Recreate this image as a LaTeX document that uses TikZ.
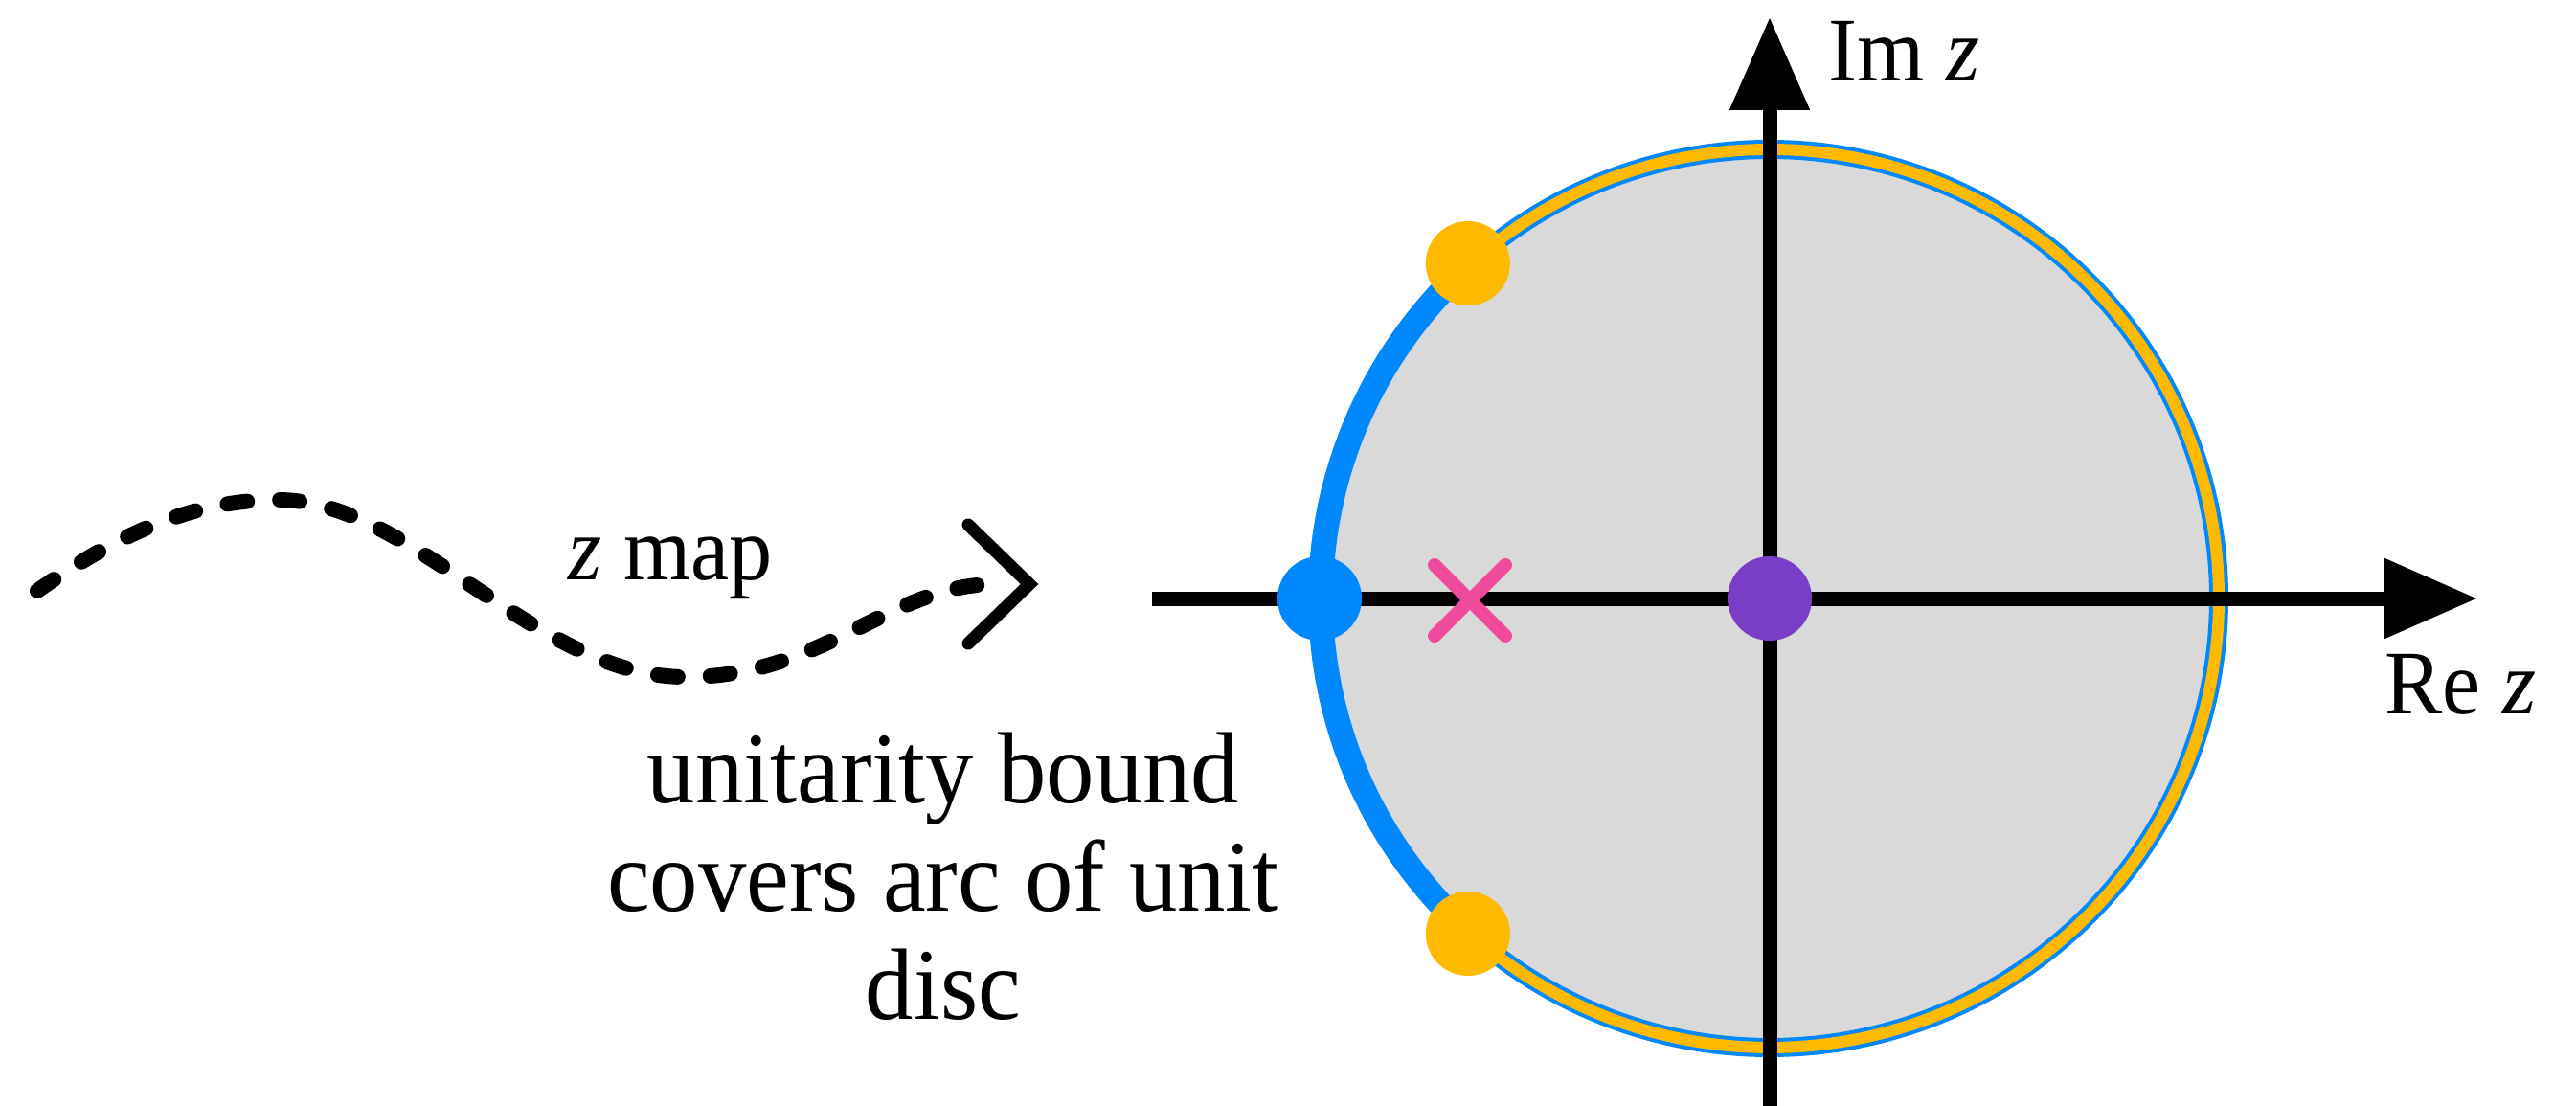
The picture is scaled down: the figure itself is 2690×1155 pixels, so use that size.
\documentclass[tikz,border=0pt]{standalone}
\usepackage{fontspec}
\setmainfont{Liberation Serif}[FakeStretch=0.95]
\usetikzlibrary{arrows.meta,calc}
\definecolor{discgray}{HTML}{D9D9D9}
\definecolor{zblue}{HTML}{0088FF}
\definecolor{zyellow}{HTML}{FFBA00}
\definecolor{zpurple}{HTML}{7A3DC8}
\definecolor{zpink}{HTML}{EE4B9C}
\begin{document}
\begin{tikzpicture}[x=1pt,y=-1pt,
  axisline/.style={line width=15pt,-{Triangle[length=97pt,width=80pt]}},
  dotnode/.style={circle,inner sep=0pt,minimum size=88pt},
  labeltext/.style={inner sep=0pt,font=\fontsize{95}{105}\selectfont},
  maintext/.style={inner sep=0pt,align=center,font=\fontsize{106}{113}\selectfont},
  wavedash/.style={line width=16pt,line cap=round,dash pattern=on 21pt off 34pt}]
\useasboundingbox (0,0) rectangle (2690,1155);
\coordinate (O) at (1848,625);
% disc
\fill[discgray] (O) circle[radius=469];
\draw[zblue,line width=20pt] ([shift={(-132:469)}]O) arc[start angle=-132,end angle=132,radius=469];
\draw[zyellow,line width=12pt] ([shift={(-132:469)}]O) arc[start angle=-132,end angle=132,radius=469];
\draw[zblue,line width=26pt] ([shift={(132:469)}]O) arc[start angle=132,end angle=228,radius=469];
% axes
\coordinate (xl) at (1203,625);
\coordinate (xr) at (2587,625);
\coordinate (yb) at (1848,1160);
\coordinate (yt) at (1848,18);
\draw[axisline] (xl) -- (xr);
\draw[axisline] (yb) -- (yt);
% points
\node[dotnode,fill=zyellow] (ytop) at ([shift={(228:471)}]O) {};
\node[dotnode,fill=zyellow] (ybot) at ([shift={(132:471)}]O) {};
\node[dotnode,fill=zblue] (bdot) at ([shift={(180:470)}]O) {};
\node[dotnode,fill=zpurple] (pdot) at (O) {};
\coordinate (cr) at (1535,627);
\draw[zpink,line width=14pt,line cap=round] ($(cr)+(-37,-37)$) -- ($(cr)+(37,37)$)
  ($(cr)+(-37,37)$) -- ($(cr)+(37,-37)$);
% labels
\node[labeltext,anchor=base west] (im) at (1909,85) {Im \textit{z}};
\node[labeltext,anchor=base west] (re) at (2490,745) {Re \textit{z}};
\node[labeltext,anchor=base] (zmap) at (700,605) {\textit{z} map};
\node[maintext,anchor=center] (ub) at (985,915) {unitarity bound\\covers arc of unit\\disc};
% wavy map arrow
\coordinate (w0) at (39,617);
\coordinate (w1) at (290,522);
\coordinate (w2) at (716,707);
\coordinate (w3) at (1040,610);
\coordinate (tip) at (1075,610);
\draw[wavedash] (w0) .. controls (120,560) and (200,522) .. (w1)
  .. controls (430,522) and (560,707) .. (w2)
  .. controls (860,707) and (930,610) .. (w3);
\draw[line width=13pt,line cap=round,miter limit=10] ($(tip)+(-64,-62)$) -- (tip) -- ($(tip)+(-64,62)$);
\end{tikzpicture}
\end{document}
